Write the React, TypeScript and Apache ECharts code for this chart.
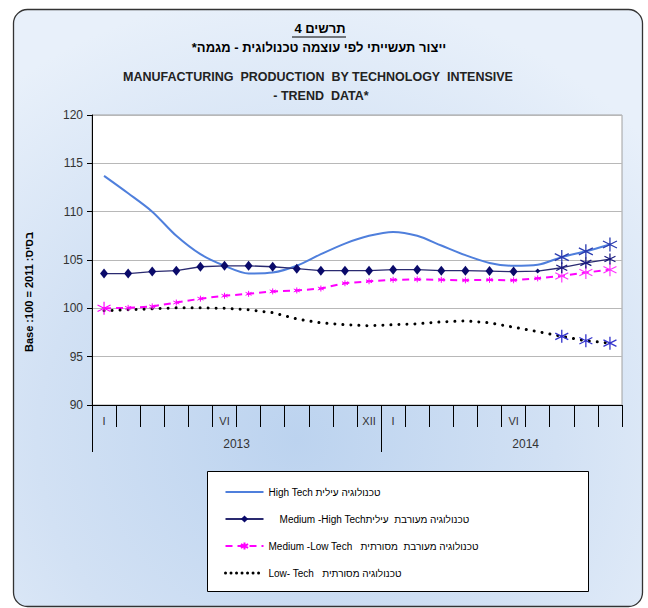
import React, { useEffect, useRef } from 'react';
import * as echarts from 'echarts';

// ---- data ----
const months = ['I', '', '', '', '', 'VI', '', '', '', '', '', 'XII', 'I', '', '', '', '', 'VI', '', '', '', ''];
const years = ['2013', '2014'];
const yearLabelPos = [6, 18];
const yearDividers = [0, 12];

const seriesNames = [
  'High Tech טכנולוגיה עילית',
  '\u00a0\u00a0\u00a0\u00a0Medium -High Techטכנולוגיה מעורבת  עילית',
  'Medium -Low Tech   טכנולוגיה מעורבת  מסורתית',
  'Low- Tech   טכנולוגיה מסורתית',
];

const highTech = [113.7, 111.9, 110.0, 107.5, 105.6, 104.4, 103.6, 103.7, 104.4, 105.6, 106.7, 107.5, 107.9, 107.5, 106.5, 105.5, 104.7, 104.4, 104.5, 105.3, 105.9, 106.6];
const medHigh = [103.6, 103.6, 103.8, 103.9, 104.3, 104.4, 104.4, 104.3, 104.1, 103.9, 103.9, 103.9, 104.0, 104.0, 103.9, 103.9, 103.85, 103.8, 103.85, 104.2, 104.7, 105.1];
const medLow = [100.0, 100.05, 100.2, 100.6, 101.0, 101.3, 101.5, 101.75, 101.85, 102.05, 102.6, 102.8, 102.95, 103.0, 102.95, 102.9, 102.95, 102.9, 103.1, 103.35, 103.7, 104.0];
const lowTech = [99.75, 99.85, 99.95, 100.05, 100.05, 100.0, 99.85, 99.55, 98.9, 98.5, 98.3, 98.2, 98.3, 98.4, 98.6, 98.7, 98.5, 98.05, 97.6, 97.1, 96.65, 96.4];

const starIdx = [19, 20, 21];

const FONT = "'Liberation Sans', Arial, sans-serif";
const STAR = 'path://M5,0L5,10M0.6,2.5L9.4,7.5M0.6,7.5L9.4,2.5';

function starItem(v: number, color: string, size: number, width = 1.3) {
  return {
    value: v,
    symbol: STAR,
    symbolSize: size,
    itemStyle: { color: 'transparent', borderColor: color, borderWidth: width },
  };
}

export default function App() {
  const ref = useRef<HTMLDivElement>(null);

  useEffect(() => {
    if (!ref.current) return;
    const chart = echarts.init(ref.current, undefined, { renderer: 'svg' });

    const hiData = highTech.map((v, i) => (starIdx.includes(i) ? starItem(v, '#2a3bb0', 14) : v));
    const mhData = medHigh.map((v, i) => {
      if (starIdx.includes(i)) return starItem(v, '#1a1a80', 11);
      if (i === 18) return { value: v, symbolSize: 5 };
      return v;
    });
    const mlData = medLow.map((v, i) => {
      if (i === 0) return starItem(v, '#ff00ff', 13, 1.2);
      if (starIdx.includes(i)) return starItem(v, '#ff33ff', 13, 1.2);
      return v;
    });
    const lowData = lowTech.map((v, i) => (starIdx.includes(i) ? starItem(v, '#3333cc', 13) : v));

    const hidden = { color: 'transparent', borderColor: 'transparent', borderWidth: 0, opacity: 0 };

    const option: any = {
      animation: false,
      textStyle: { fontFamily: FONT },
      graphic: [
        {
          type: 'rect',
          z: -10,
          shape: { x: 13.5, y: 9.5, width: 629, height: 597, r: 14 },
          style: {
            fill: new echarts.graphic.RadialGradient(0.45, 0.72, 0.75, [
              { offset: 0, color: '#bcd3ef' },
              { offset: 0.55, color: '#d2e1f4' },
              { offset: 1, color: '#e8f0fa' },
            ]),
            stroke: '#333',
            lineWidth: 1.3,
          },
        },
        {
          type: 'rect',
          z: -5,
          shape: { x: 207.5, y: 471.5, width: 381, height: 120 },
          style: { fill: '#fff', stroke: '#000', lineWidth: 1 },
        },
        {
          type: 'text',
          x: 320,
          y: 28,
          style: { text: 'תרשים 4', font: `bold 13px ${FONT}`, fill: '#000', align: 'center', verticalAlign: 'middle' },
        },
        {
          type: 'line',
          shape: { x1: 292, y1: 37, x2: 346, y2: 37 },
          style: { stroke: '#000', lineWidth: 1 },
        },
        {
          type: 'text',
          x: 319,
          y: 47,
          style: { text: 'ייצור תעשייתי לפי עוצמה טכנולוגית - מגמה*\u200F', font: `bold 13px ${FONT}`, fill: '#000', align: 'center', verticalAlign: 'middle' },
        },
        {
          type: 'text',
          x: 318,
          y: 77,
          style: { text: 'MANUFACTURING  PRODUCTION  BY TECHNOLOGY  INTENSIVE', font: `bold 12.5px ${FONT}`, fill: '#222', align: 'center', verticalAlign: 'middle' },
        },
        {
          type: 'text',
          x: 321,
          y: 96,
          style: { text: '- TREND  DATA*', font: `bold 12.5px ${FONT}`, fill: '#222', align: 'center', verticalAlign: 'middle' },
        },
        {
          type: 'text',
          x: 29,
          y: 292,
          rotation: Math.PI / 2,
          style: { text: 'Base :100 = 2011 :בסיס', font: `bold 11px ${FONT}`, fill: '#000', align: 'center', verticalAlign: 'middle' },
        },
      ],
      grid: {
        left: 92,
        top: 115,
        width: 530,
        height: 290,
        show: true,
        backgroundColor: '#fff',
        borderColor: '#a0a0a0',
        borderWidth: 1,
      },
      legend: {
        orient: 'vertical',
        left: 219,
        top: 482,
        itemWidth: 38,
        itemHeight: 9,
        itemGap: 17,
        textStyle: { fontSize: 10, color: '#000', fontFamily: FONT },
        data: [
          { name: seriesNames[0], itemStyle: hidden },
          { name: seriesNames[1] },
          { name: seriesNames[2] },
          { name: seriesNames[3], itemStyle: hidden, lineStyle: { type: [0.01, 5.5], width: 3, cap: 'round', color: '#000' } },
        ],
      },
      xAxis: [
        {
          type: 'category',
          data: months,
          boundaryGap: true,
          axisLine: { show: true, lineStyle: { color: '#000', width: 1 } },
          axisTick: { show: true, interval: 0, length: 22, lineStyle: { color: '#000' } },
          axisLabel: { interval: 0, fontSize: 11, color: '#333', margin: 10 },
          splitLine: { show: false },
        },
        {
          type: 'value',
          min: 0,
          max: 22,
          position: 'bottom',
          axisLine: { show: false },
          axisTick: { show: true, customValues: yearDividers, length: 47, lineStyle: { color: '#000' } },
          axisLabel: {
            customValues: yearLabelPos,
            formatter: (v: number) => years[yearLabelPos.indexOf(v)] ?? '',
            margin: 33,
            fontSize: 12,
            color: '#333',
          },
          splitLine: { show: false },
        },
      ],
      yAxis: {
        type: 'value',
        min: 90,
        max: 120,
        interval: 5,
        axisLine: { show: true, lineStyle: { color: '#000' } },
        axisTick: { show: true, length: 5, lineStyle: { color: '#000' } },
        axisLabel: { fontSize: 12, color: '#333', margin: 9 },
        splitLine: { show: true, lineStyle: { color: '#b8b8b8', width: 1 } },
      },
      series: [
        {
          name: seriesNames[0],
          type: 'line',
          data: hiData,
          smooth: 0.3,
          symbol: 'none',
          lineStyle: { color: '#4f7fdc', width: 2 },
          itemStyle: { color: '#4f7fdc' },
          z: 3,
        },
        {
          name: seriesNames[1],
          type: 'line',
          data: mhData,
          symbol: 'diamond',
          symbolSize: [8, 10],
          lineStyle: { color: '#2a2a70', width: 1.3 },
          itemStyle: { color: '#0a0a6a' },
          z: 4,
        },
        {
          name: seriesNames[2],
          type: 'line',
          data: mlData,
          symbol: STAR,
          symbolSize: 6,
          lineStyle: { color: '#ff00ff', width: 2, type: [7, 5] },
          itemStyle: { color: 'transparent', borderColor: '#ff00ff', borderWidth: 1 },
          z: 3,
        },
        {
          name: seriesNames[3],
          type: 'line',
          data: lowData,
          symbol: 'none',
          lineStyle: { color: '#000', width: 3, type: [0.01, 8], cap: 'round' },
          itemStyle: { color: '#000' },
          z: 3,
        },
      ],
    };

    chart.setOption(option);
    return () => chart.dispose();
  }, []);

  return <div ref={ref} style={{ position: 'absolute', left: 0, top: 0, width: 648, height: 608 }} />;
}
